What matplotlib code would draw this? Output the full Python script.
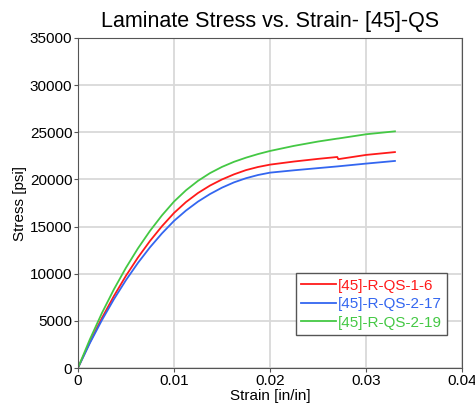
import matplotlib.pyplot as plt

plt.rcParams['font.family'] = ['Liberation Sans', 'DejaVu Sans']

# strain [in/in] and stress [psi]
strain = [0, 0.00125, 0.0025, 0.00375, 0.005, 0.00625, 0.0075, 0.00875,
          0.01, 0.01125, 0.0125, 0.01375, 0.015, 0.01625, 0.0175, 0.01875,
          0.02, 0.0225, 0.025, 0.027, 0.0271, 0.03, 0.033]
stress_1_6 = [0, 2750, 5300, 7640, 9780, 11720, 13470, 15040,
              16440, 17600, 18560, 19350, 20000, 20540, 20990, 21320,
              21570, 21900, 22180, 22380, 22150, 22600, 22900]
stress_2_17 = [0, 2650, 5080, 7300, 9320, 11150, 12800, 14280,
               15600, 16700, 17650, 18450, 19130, 19690, 20130, 20470,
               20720, 20970, 21200, 21380, 21390, 21680, 21960]
stress_2_19 = [0, 3050, 5830, 8350, 10630, 12690, 14540, 16190,
               17650, 18850, 19850, 20670, 21330, 21870, 22310, 22690,
               23020, 23560, 24020, 24330, 24340, 24790, 25100]

labels = ['[45]-R-QS-1-6', '[45]-R-QS-2-17', '[45]-R-QS-2-19']
colors = ['#ff1a1a', '#3366f0', '#44c844']

fig = plt.figure(figsize=(4.75, 4.04), dpi=100)
ax = fig.add_axes([0.164, 0.089, 0.809, 0.817])

for s, lab, c in zip([stress_1_6, stress_2_17, stress_2_19], labels, colors):
    ax.plot(strain, s, color=c, lw=1.3, label=lab)

ax.set_xlim(0, 0.04)
ax.set_ylim(0, 35000)
ax.set_xticks([0, 0.01, 0.02, 0.03, 0.04])
ax.set_xticklabels(['0', '0.01', '0.02', '0.03', '0.04'])
ax.set_yticks(range(0, 35001, 5000))
ax.grid(True, color='#d9d9d9', lw=1.3)
ax.set_axisbelow(True)
for sp in ax.spines.values():
    sp.set_color('#555555')
ax.tick_params(labelsize=11, length=3, color='#555555', pad=1)

ax.set_title('Laminate Stress vs. Strain- [45]-QS', fontsize=15.5, pad=8)
ax.set_xlabel('Strain [in/in]', fontsize=11, labelpad=1)
ax.set_ylabel('Stress [psi]', fontsize=11, labelpad=2)

leg = ax.legend(loc='lower right', bbox_to_anchor=(0.961, 0.1), fontsize=11,
                fancybox=False, framealpha=1, edgecolor='#555555',
                handlelength=2.3, handletextpad=0.1, borderpad=0.35,
                labelspacing=0.3, borderaxespad=0)
for t, c in zip(leg.get_texts(), colors):
    t.set_color(c)

fig.savefig('out.png')
